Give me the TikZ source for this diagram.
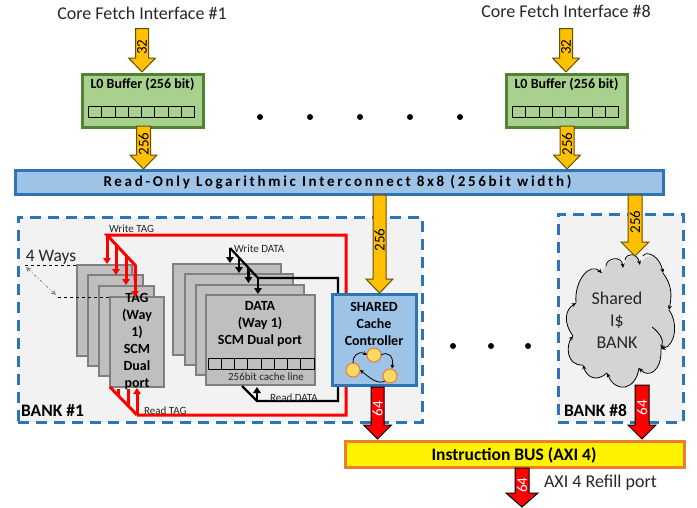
\documentclass[tikz,border=0pt]{standalone}
\usepackage{fontspec}
\setmainfont{Carlito}
\newfontfamily\spacedfont[LetterSpace=18]{Carlito}
\usetikzlibrary{arrows.meta,calc}
\definecolor{txt}{HTML}{262626}
\definecolor{blueb}{HTML}{2E75B6}
\definecolor{bluef}{HTML}{9DC3E6}
\definecolor{greenb}{HTML}{548235}
\definecolor{greenf}{HTML}{A9D18E}
\definecolor{orangef}{HTML}{FFC000}
\definecolor{orangeb}{HTML}{ED7D31}
\definecolor{grayf}{HTML}{BFBFBF}
\definecolor{grayb}{HTML}{7F7F7F}
\definecolor{bankf}{HTML}{F2F2F2}
\definecolor{yel}{HTML}{FFD966}
\tikzset{
  solidbox/.style={draw,outer sep=0pt,inner sep=0pt,rectangle},
  bluebox/.style={solidbox,draw=blueb,fill=bluef,line width=3pt},
  greenbox/.style={solidbox,draw=greenb,fill=greenf,line width=3pt},
  graybox/.style={solidbox,draw=grayb,fill=grayf,line width=2pt},
  bankbox/.style={solidbox,fill=bankf,draw=blueb,line width=3pt,dash pattern=on 11pt off 7pt},
  busbox/.style={solidbox,draw=orangeb,fill=yellow,line width=3pt},
  lbl/.style={inner sep=0pt,outer sep=0pt,text=txt},
  blbl/.style={inner sep=0pt,outer sep=0pt,text=black,font=\bfseries\fontsize{14}{17}\selectfont,align=center},
  smalllbl/.style={lbl,font=\fontsize{11}{12}\selectfont},
  bigarrow/.style={line width=1pt,line join=miter},
  orangearrow/.style={bigarrow,fill=orangef,draw=black!60!orangef},
  redarrow/.style={bigarrow,fill=red,draw=black},
  redwire/.style={draw=red,line width=3pt,line join=miter},
  blackwire/.style={draw=black,line width=2.2pt,line join=miter},
  redtip/.style={redwire,-{Triangle[length=6pt,width=7.5pt]}},
  blacktip/.style={blackwire,-{Triangle[length=6pt,width=7.5pt]}},
  cellrow/.style={draw=black,line width=1pt,fill=none},
  fsm/.style={circle,draw=orangeb,fill=yel,line width=1pt,minimum size=14pt,inner sep=0pt,outer sep=0pt},
  fsmarrow/.style={draw=black,line width=.8pt,-{Stealth[length=4pt,width=4pt]}},
  cloudline/.style={draw=black,line width=.8pt,-{Stealth[length=4.5pt,width=4pt]}}
}
% from, to, half shaft, half head, style, label, label colour, label position
\newcommand{\blockarrow}[8]{%
  \path[#5] let \p1=(#1),\p2=(#2) in
    (\x1-#3,\y1) -- (\x1+#3,\y1) -- (\x1+#3,\y2+14pt) -- (\x1+#4,\y2+14pt) -- (\x2,\y2)
    -- (\x1-#4,\y2+14pt) -- (\x1-#3,\y2+14pt) -- cycle;
  \node[rotate=90,inner sep=0pt,text=#7,font=\fontsize{15}{16}\selectfont] at ($(#1)!#8!(#2)$) {#6};
}
\newcommand{\cellsrow}[4]{%
  \draw[cellrow] (#1,#3) rectangle (#2,#4);
  \foreach \i in {1,...,7} {\draw[cellrow] ({#1+(#2-#1)*\i/8},#3) -- ({#1+(#2-#1)*\i/8},#4);}
}
\begin{document}
\begin{tikzpicture}[x=1pt,y=-1pt]
\useasboundingbox (0,0) rectangle (697,507);
% banks
\node[bankbox,minimum width=404pt,minimum height=205pt] (bank1) at (220,319.5) {};
\node[bankbox,minimum width=125pt,minimum height=208pt] (bank8) at (620.5,318) {};
% titles
\node[lbl,font=\fontsize{18}{20}\selectfont] (cf1) at (142,13) {Core Fetch Interface \#1};
\node[lbl,font=\fontsize{18}{20}\selectfont] (cf8) at (566,11) {Core Fetch Interface \#8};
% L0 buffers
\node[greenbox,minimum width=121pt,minimum height=53pt] (l0a) at (142.5,100.5) {};
\node[blbl,font=\bfseries\fontsize{14}{15}\selectfont] (l0atxt) at (142.5,84) {L0 Buffer (256 bit)};
\cellsrow{88.5}{194.5}{106}{117}
\node[greenbox,minimum width=121pt,minimum height=53pt] (l0b) at (566.5,100.5) {};
\node[blbl,font=\bfseries\fontsize{14}{15}\selectfont] (l0btxt) at (566.5,84) {L0 Buffer (256 bit)};
\cellsrow{512.5}{618.5}{106}{117}
% dots
\foreach \x in {260,310,360,410,460} {\fill (\x,117) circle (3pt);}
\foreach \x in {453,491,528} {\fill (\x,346) circle (3pt);}
% interconnect
\node[bluebox,minimum width=648pt,minimum height=24pt] (ic) at (339,182) {};
\node[lbl,text=black,font=\spacedfont\bfseries\fontsize{15}{16}\selectfont] (ictxt) at (337.5,182.5) {Read-Only Logarithmic Interconnect 8x8 (256bit width)};
% TAG stack
\node[graybox,minimum width=55pt,minimum height=91pt] (tag4) at (104.5,310.5) {};
\node[graybox,minimum width=55pt,minimum height=91pt] (tag3) at (115.5,320.5) {};
\node[graybox,minimum width=55pt,minimum height=90pt] (tag2) at (126,331) {};
\node[graybox,minimum width=54pt,minimum height=90pt] (tag1) at (137,342) {};
\node[blbl,font=\bfseries\fontsize{14}{17}\selectfont] (tagtxt) at (137,341.5) {TAG\\(Way\\1)\\SCM\\Dual\\port};
% DATA stack
\node[graybox,minimum width=108pt,minimum height=91pt] (data4) at (227,309.5) {};
\node[graybox,minimum width=108pt,minimum height=91pt] (data3) at (239,319.5) {};
\node[graybox,minimum width=108pt,minimum height=90pt] (data2) at (250,330) {};
\node[graybox,minimum width=109pt,minimum height=90pt] (data1) at (260.5,340) {};
\node[blbl] (datatxt) at (260,324) {DATA\\(Way 1)\\SCM Dual port};
\cellsrow{208}{314}{358}{369}
\node[lbl,font=\fontsize{11}{12}\selectfont] (cacheline) at (266,376.5) {256bit cache line};
% four ways
\node[lbl,font=\fontsize{17.5}{19}\selectfont] (ways) at (51,257) {4 Ways};
\coordinate (wayA) at (25,265);
\coordinate (wayB) at (58,297);
\draw[black,line width=.7pt,dashed] (wayA) -- (tag4.north west);
\draw[black,line width=.7pt,dashed] (wayB) -- (tag1.north west |- wayB);
\draw[gray,line width=.7pt,dash pattern=on 3pt off 2pt on 1pt off 2pt,{Stealth[length=5pt,width=5pt,open]}-{Stealth[length=5pt,width=5pt,open]}] ($(wayA)+(1,2)$) -- ($(wayB)+(-2,-2)$);
% connector coordinates
\coordinate (wt) at (107,235);
\coordinate (wtr) at (346,235);
\coordinate (rtr) at (346,415);
\coordinate (rt) at (137,415);
\coordinate (wd) at (230,248);
\coordinate (wdk) at (258,278);
\coordinate (wdr) at (338,278);
\coordinate (rdr) at (338,401);
\coordinate (rd) at (257,401);
% red wires
\draw[redwire] (rt) -- (rtr) -- (wtr) -- (wt) -- (135,265) -- (135,280);
\draw[redwire] (rt) -- (110,387);
\draw[redtip] (wt) -- (107,264);
\draw[redtip] (116,245) -- (116,275);
\draw[redtip] (126,255) -- (126,285);
\draw[redtip] (135,265) -- (135,297);
\draw[redtip] (rt) -- (137,388);
\draw[redwire] (128,405) -- (128,389);
\draw[redwire] (118,395) -- (118,389);
% black wires
\draw[blackwire] (wdk) -- (wdr) -- (rdr) -- (rd) -- (242,386);
\draw[blackwire] (wd) -- (wdk);
\draw[blacktip] (wd) -- (230,263);
\draw[blacktip] (239,258) -- (239,273);
\draw[blacktip] (248.5,268) -- (248.5,283);
\draw[blacktip] (wdk) -- (258,294);
\draw[blacktip] (rd) -- (257,387);
% wire labels
\node[smalllbl,anchor=west] (lwt) at (109,229) {Write TAG};
\node[smalllbl,anchor=west] (lrt) at (144,410.5) {Read TAG};
\node[smalllbl,anchor=west] (lwd) at (234,248.5) {Write DATA};
\node[smalllbl,anchor=west] (lrd) at (270,398) {Read DATA};
% controller
\node[bluebox,minimum width=84pt,minimum height=91pt] (ctrl) at (374.5,340) {};
\node[blbl] (ctrltxt) at (374,324) {SHARED\\Cache\\Controller};
\node[fsm] (f1) at (374,355) {};
\node[fsm] (f2) at (353,370) {};
\node[fsm] (f3) at (390,376) {};
\draw[fsmarrow] (f2.north) .. controls (352,357) and (358,350) .. (f1.west);
\draw[fsmarrow] (f1.east) .. controls (388,351) and (394,356) .. (392,368.5);
\draw[fsmarrow] (f3.south west) .. controls (378,385) and (370,378) .. (f2.east);
% cloud
\coordinate (c1) at (602,273);
\coordinate (c2) at (623,268);
\coordinate (c3) at (640,265);
\coordinate (c4) at (663,273);
\coordinate (c5) at (669,310);
\coordinate (c6) at (661,349);
\coordinate (c7) at (639,368);
\coordinate (c8) at (607,373);
\coordinate (c9) at (583,365);
\coordinate (c10) at (573,336);
\coordinate (c11) at (576,303);
\fill[black!17] (c1) .. controls (606,258) and (622,255) .. (c2) .. controls (626,253) and (637,252) .. (c3)
 .. controls (646,250) and (660,256) .. (c4) .. controls (672,285) and (672,295) .. (c5)
 .. controls (678,322) and (676,345) .. (c6) .. controls (662,372) and (648,378) .. (c7)
 .. controls (636,390) and (616,394) .. (c8) .. controls (597,382) and (587,378) .. (c9)
 .. controls (566,366) and (566,345) .. (c10) .. controls (563,322) and (565,310) .. (c11)
 .. controls (574,280) and (590,262) .. (c1);
\draw[cloudline] (c11) .. controls (574,280) and (590,262) .. (c1);
\draw[cloudline] ($(c1)+(4,-7)$) .. controls (606,258) and (622,255) .. (c2);
\draw[cloudline] ($(c2)+(2,-8)$) .. controls (626,253) and (637,252) .. (c3);
\draw[cloudline] ($(c3)+(3,-9)$) .. controls (646,250) and (660,256) .. (c4);
\draw[cloudline] (c4) .. controls (672,285) and (672,295) .. (c5);
\draw[cloudline] (c5) .. controls (678,322) and (676,345) .. (c6);
\draw[cloudline] (652,327) .. controls (660,333) and (664,340) .. (c6);
\draw[cloudline] (c6) .. controls (662,372) and (648,378) .. (c7);
\draw[cloudline] (c7) .. controls (636,390) and (616,394) .. (c8);
\draw[cloudline] (c8) .. controls (597,382) and (587,378) .. (c9);
\draw[cloudline] (c9) .. controls (566,366) and (566,345) .. (c10);
\draw[cloudline] (c10) .. controls (563,322) and (565,310) .. (c11);
\node[lbl,align=center,font=\fontsize{18}{22}\selectfont] (cloudtxt) at (617,320) {Shared\\I\$\\BANK};
% bank labels
\node[lbl,text=black,font=\bfseries\fontsize{17.5}{18}\selectfont,anchor=west] (b1) at (21,411) {BANK \#1};
\node[lbl,text=black,font=\bfseries\fontsize{17.5}{18}\selectfont,anchor=west] (b8) at (564,411) {BANK \#8};
% bus
\node[busbox,minimum width=339pt,minimum height=26pt] (bus) at (514.5,454) {};
\node[lbl,text=black,font=\bfseries\fontsize{17.5}{18}\selectfont] (bustxt) at (514,455) {Instruction BUS (AXI 4)};
\node[lbl,font=\fontsize{18}{20}\selectfont,anchor=west] (refill) at (544,483) {AXI 4 Refill port};
% block arrows
\coordinate (ba1) at (142,28.5);   \coordinate (bb1) at (142,72);
\coordinate (ba2) at (566,28.5);   \coordinate (bb2) at (566,72);
\coordinate (ba3) at (143.5,126);  \coordinate (bb3) at (143.5,169);
\coordinate (ba4) at (567,126);    \coordinate (bb4) at (567,169);
\coordinate (ba5) at (379.5,195);  \coordinate (bb5) at (379.5,293);
\coordinate (ba6) at (635,195);    \coordinate (bb6) at (635,256);
\coordinate (ba7) at (377.5,387);  \coordinate (bb7) at (377.5,439);
\coordinate (ba8) at (642,385);    \coordinate (bb8) at (642,439);
\coordinate (ba9) at (522,468);    \coordinate (bb9) at (522,507);
\blockarrow{ba1}{bb1}{6.5pt}{13.5pt}{orangearrow}{32}{black}{.43}
\blockarrow{ba2}{bb2}{6.5pt}{13.5pt}{orangearrow}{32}{black}{.43}
\blockarrow{ba3}{bb3}{7pt}{13.5pt}{orangearrow}{256}{black}{.42}
\blockarrow{ba4}{bb4}{7pt}{13.5pt}{orangearrow}{256}{black}{.42}
\blockarrow{ba5}{bb5}{6.5pt}{13.5pt}{orangearrow}{256}{black}{.46}
\blockarrow{ba6}{bb6}{7pt}{14pt}{orangearrow}{256}{black}{.44}
\blockarrow{ba7}{bb7}{6.5pt}{14pt}{redarrow}{64}{white}{.42}
\blockarrow{ba8}{bb8}{7pt}{14pt}{redarrow}{64}{white}{.42}
\blockarrow{ba9}{bb9}{7pt}{16pt}{redarrow}{64}{white}{.44}
\end{tikzpicture}
\end{document}
